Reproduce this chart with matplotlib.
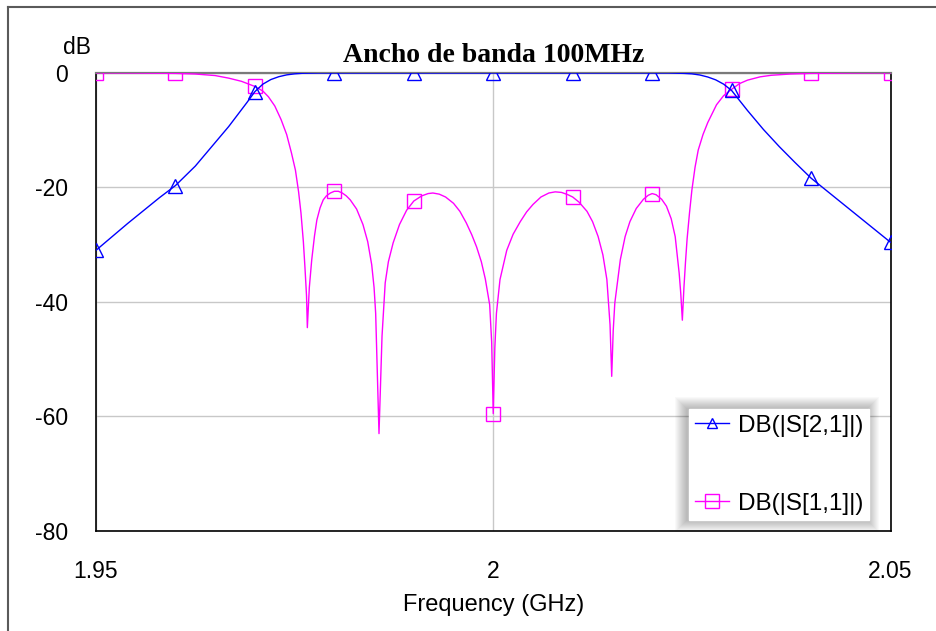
import numpy as np
import matplotlib
matplotlib.use("Agg")
import matplotlib.pyplot as plt
from matplotlib.lines import Line2D
from matplotlib.patches import Rectangle

# ---- swept S-parameter data (frequency in GHz, magnitude in dB) ----
s21_freq = [1.950, 1.954, 1.958, 1.960, 1.9625, 1.9667, 1.969, 1.970, 1.971,
            1.972, 1.973, 1.974, 1.975, 1.976, 1.978, 1.980, 1.990, 2.000,
            2.010, 2.020, 2.022, 2.024, 2.025, 2.026, 2.027, 2.028, 2.029,
            2.030, 2.032, 2.034, 2.036, 2.038, 2.040, 2.045, 2.050]
s21_db = [-31.0, -26.3, -21.8, -19.7, -16.3, -9.4, -5.2, -3.3, -2.0,
          -1.2, -0.7, -0.38, -0.2, -0.1, -0.05, -0.05, -0.05, -0.05,
          -0.05, -0.05, -0.05, -0.12, -0.2, -0.4, -0.75, -1.25, -2.0,
          -3.1, -6.6, -9.9, -12.9, -15.7, -18.4, -24.0, -29.6]

s11_freq = [1.950, 1.955, 1.960, 1.9625, 1.965, 1.9667, 1.9683, 1.970, 1.9710,
            1.9717, 1.9725, 1.9733, 1.9740, 1.9746, 1.9751, 1.9755, 1.9758,
            1.9761, 1.9763, 1.9765, 1.9766,
            1.97685, 1.97715, 1.9775, 1.9778, 1.9782, 1.9786, 1.9790, 1.9795,
            1.9800, 1.9805, 1.9810, 1.9815, 1.9820, 1.9828, 1.9836, 1.9842,
            1.9847, 1.9850, 1.9852, 1.98562,
            1.9860, 1.9864, 1.9868, 1.9874, 1.9882, 1.9891, 1.9900, 1.9910,
            1.9918, 1.9924, 1.9932, 1.9940, 1.9950, 1.9958, 1.9966, 1.9973,
            1.9979, 1.9985, 1.9990, 1.99955, 1.9998, 2.0000,
            2.0002, 2.0004, 2.00085, 2.0017, 2.0025, 2.0034, 2.0042, 2.0050,
            2.0060, 2.0070, 2.0078, 2.0086, 2.0094, 2.0100, 2.0108, 2.0118,
            2.0125, 2.0132, 2.0138, 2.0143, 2.0147, 2.01491,
            2.0151, 2.0153, 2.0160, 2.0166, 2.0172, 2.0180, 2.0189, 2.0195,
            2.0200, 2.0205, 2.0212, 2.0218, 2.0224, 2.0229, 2.0234, 2.0236,
            2.0238,
            2.0240, 2.0242, 2.0244, 2.0247, 2.0250, 2.0254, 2.0258, 2.0264,
            2.0270, 2.0281, 2.0290, 2.0300, 2.0310, 2.0320, 2.0336, 2.0350,
            2.0374, 2.0400, 2.0450, 2.0500]
s11_db = [-0.02, -0.05, -0.12, -0.23, -0.5, -0.95, -1.5, -2.4, -3.2,
          -4.2, -5.8, -8.2, -10.8, -14.0, -17.0, -20.8, -24.5,
          -29.5, -34.0, -39.0, -44.5,
          -37.5, -32.7, -28.5, -25.7, -23.6, -22.2, -21.5, -21.0,
          -20.7, -20.7, -21.0, -21.5, -22.2, -23.8, -26.5, -29.5,
          -33.5, -37.5, -42.0, -63.0,
          -46.0, -36.7, -33.0, -29.7, -26.5, -24.0, -22.4, -21.5,
          -21.1, -21.0, -21.2, -21.7, -22.8, -24.2, -26.2, -28.3,
          -30.4, -33.0, -36.0, -40.5, -47.0, -59.5,
          -48.0, -42.0, -36.1, -31.0, -28.2, -26.0, -24.3, -23.0,
          -21.7, -21.0, -20.8, -20.9, -21.3, -21.7, -22.6, -24.2,
          -26.0, -28.6, -31.8, -36.1, -44.0, -53.0,
          -45.0, -40.2, -32.6, -28.6, -26.0, -23.7, -22.1, -21.4,
          -21.1, -21.3, -22.1, -23.3, -25.5, -28.6, -35.0, -38.5,
          -43.2,
          -37.5, -33.0, -29.0, -24.5, -20.5, -16.5, -13.5, -10.8,
          -8.7, -5.6, -4.0, -2.9, -1.9, -1.3, -0.72, -0.45,
          -0.23, -0.12, -0.05, -0.02]

marker_freqs = [1.95, 1.96, 1.97, 1.98, 1.99, 2.00, 2.01, 2.02, 2.03, 2.04, 2.05]
x_ticks = [1.95, 2.0, 2.05]
x_tick_labels = ["1.95", "2", "2.05"]
y_ticks = [0, -20, -40, -60, -80]
y_tick_labels = ["0", "-20", "-40", "-60", "-80"]
series_labels = ["DB(|S[2,1]|)", "DB(|S[1,1]|)"]
chart_title = "Ancho de banda 100MHz"

S21_COLOR = "#0000ff"
S11_COLOR = "#ff00ff"

W, H = 937, 631
plt.rcParams["font.family"] = ["Liberation Sans", "DejaVu Sans"]

fig = plt.figure(figsize=(W / 100, H / 100), dpi=100)
fig.patch.set_facecolor("white")

# axes placed in pixel units
ax_l, ax_r, ax_t, ax_b = 96, 890.5, 72.7, 531
ax = fig.add_axes([ax_l / W, 1 - ax_b / H, (ax_r - ax_l) / W, (ax_b - ax_t) / H])


def marker_indices(freqs):
    f = np.asarray(freqs)
    return [int(np.argmin(np.abs(f - m))) for m in marker_freqs]


ax.plot(s11_freq, s11_db, color=S11_COLOR, lw=1.0, marker="s", ms=10,
        mfc="none", mec=S11_COLOR, mew=1.0, markevery=marker_indices(s11_freq),
        zorder=3)
ax.plot(s21_freq, s21_db, color=S21_COLOR, lw=1.0, marker="^", ms=10,
        mfc="none", mec=S21_COLOR, mew=1.0, markevery=marker_indices(s21_freq),
        zorder=3)

ax.set_xlim(1.95, 2.05)
ax.set_ylim(-80, 0)
ax.set_xticks(x_ticks)
ax.set_xticklabels(x_tick_labels)
ax.set_yticks(y_ticks)
ax.set_yticklabels(y_tick_labels)
ax.tick_params(axis="both", length=0, labelsize=16.5, colors="black")
ax.tick_params(axis="y", pad=20)
ax.tick_params(axis="x", pad=21)
ax.grid(True, color="#c8c8c8", lw=1.0, zorder=0)
ax.set_axisbelow(True)

for side in ("left", "right", "bottom"):
    ax.spines[side].set_color("black")
    ax.spines[side].set_linewidth(1.2)
ax.spines["top"].set_color("#7a7a7a")
ax.spines["top"].set_linewidth(1.6)

ax.set_xlabel("Frequency (GHz)", fontsize=17, labelpad=8)
ax.set_title(chart_title, family=["Liberation Serif", "DejaVu Serif"],
             fontweight="bold", fontsize=20, pad=8)
fig.text(76.5 / W, 1 - 47 / H, "dB", fontsize=16.5, ha="center", va="center")

# legend
handles = [
    Line2D([], [], color=S21_COLOR, lw=1.0, marker="^", ms=7, mfc="none",
           mec=S21_COLOR, mew=1.0),
    Line2D([], [], color=S11_COLOR, lw=1.0, marker="s", ms=10, mfc="none",
           mec=S11_COLOR, mew=1.0),
]
leg = ax.legend(handles, series_labels, loc="upper left",
                bbox_to_anchor=(689 / W, 1 - 409 / H),
                bbox_transform=fig.transFigure, borderaxespad=0,
                fontsize=17.5, frameon=True, fancybox=False, framealpha=1,
                edgecolor="white", facecolor="white", borderpad=0.23,
                handlelength=1.4, handletextpad=0.4, labelspacing=2.3)
leg.set_zorder(6)

# soft drop shadow behind the legend box
fig.canvas.draw()
bb = leg.get_window_extent()
inv = ax.transAxes.inverted()
for i in range(12, 0, -1):
    x0, y0 = inv.transform((bb.x0 - i - 2, bb.y0 - i))
    x1, y1 = inv.transform((bb.x1 + i - 2, bb.y1 + i))
    ax.add_patch(Rectangle((x0, y0), x1 - x0, y1 - y0, transform=ax.transAxes,
                           facecolor="black", edgecolor="none", alpha=0.022,
                           zorder=5.5, clip_on=False))

# outer frame (left and top edges)
fig.add_artist(Line2D([8 / W, 8 / W], [1 - 7 / H, 0], transform=fig.transFigure,
                      color="#5a5a5a", lw=1.5))
fig.add_artist(Line2D([8 / W, 1], [1 - 7 / H, 1 - 7 / H],
                      transform=fig.transFigure, color="#5a5a5a", lw=1.5))

fig.savefig("out.png", dpi=100, facecolor="white")
